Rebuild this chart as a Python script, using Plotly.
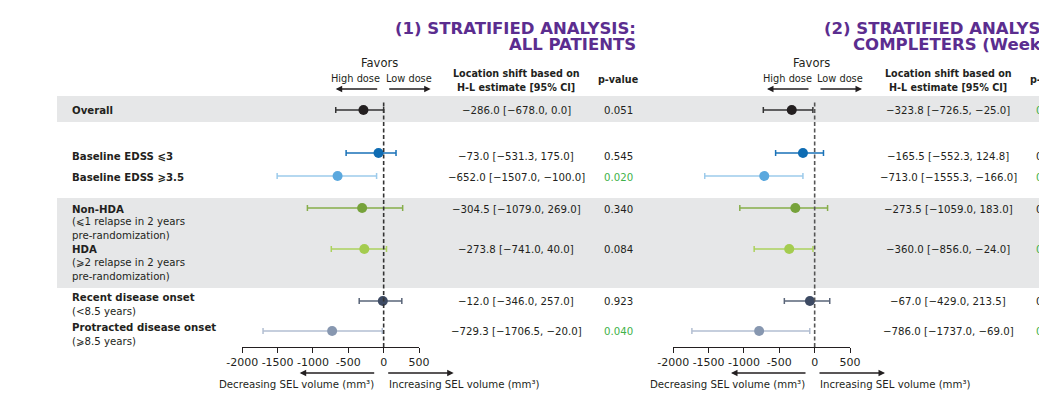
import plotly.graph_objects as go

# ---------------- DATA ----------------
row_labels = [
    ["Overall"],
    ["Baseline EDSS ⩽3"],
    ["Baseline EDSS ⩾3.5"],
    ["Non-HDA", "(⩽1 relapse in 2 years", "pre-randomization)"],
    ["HDA", "(⩾2 relapse in 2 years", "pre-randomization)"],
    ["Recent disease onset", "(<8.5 years)"],
    ["Protracted disease onset", "(⩾8.5 years)"],
]
panel_titles = [["(1) STRATIFIED ANALYSIS:", "ALL PATIENTS"],
                ["(2) STRATIFIED ANALYSIS:", "COMPLETERS (Week 96)"]]

est1 = [-286.0, -73.0, -652.0, -304.5, -273.8, -12.0, -729.3]
lo1 = [-678.0, -531.3, -1507.0, -1079.0, -741.0, -346.0, -1706.5]
hi1 = [0.0, 175.0, -100.0, 269.0, 40.0, 257.0, -20.0]
p1 = ["0.051", "0.545", "0.020", "0.340", "0.084", "0.923", "0.040"]

est2 = [-323.8, -165.5, -713.0, -273.5, -360.0, -67.0, -786.0]
lo2 = [-726.5, -552.3, -1555.3, -1059.0, -856.0, -429.0, -1737.0]
hi2 = [-25.0, 124.8, -166.0, 183.0, -24.0, 213.5, -69.0]
# panel 2 p-values are cut off at the right edge of the reference; only the leading "0" is visible
p2 = ["0", "0", "0", "0", "0", "0", "0"]
p2_sig = [True, False, True, False, True, False, True]

tick_vals = [-2000, -1500, -1000, -500, 0, 500]
tick_text = ["-2000", "-1500", "-1000", "-500", "0", "500"]

# ---------------- STYLE / LAYOUT ----------------
W, H = 1039, 396
FONT = "DejaVu Sans"
TXT = "#231f20"
GREEN = "#3fb24a"
PURPLE = "#5b2d8f"
marker_colors = ["#231f20", "#0e6cb3", "#5aa8de", "#76a23a", "#a4cc4f", "#3d4a63", "#8797b0"]
whisker_colors = ["#333333", "#1a72b8", "#9dcbeb", "#86ae4a", "#acd25d", "#5a6579", "#b3bfd2"]
marker_y = [110, 153, 176, 208, 249, 301, 331]        # screen pixel rows
text_y = [110, 157, 177, 209, 250, 301, 331]
label_y = [[110], [157], [177], [209, 222, 236], [249, 262, 276], [297, 311], [327, 341]]
AXIS_Y = 347
panel_dx = [0, 432]
zero_px = [383.7, 815.0]
dom = [[242.3, 419.0], [673.3, 850.0]]
# title placement: (x, anchor) for each line of each panel
title_pos = [[(638, "right"), (638, "right")], [(822, "left"), (851, "left")]]


def px(x):
    return x / W


def py(y):
    return 1 - y / H


fig = go.Figure()

ests = [est1, est2]
los = [lo1, lo2]
his = [hi1, hi2]
for pi in range(2):
    xa = "x" if pi == 0 else "x2"
    for i in range(len(est1)):
        e, l, h = ests[pi][i], los[pi][i], his[pi][i]
        fig.add_trace(go.Scatter(
            x=[e], y=[marker_y[i]], xaxis=xa, yaxis="y", mode="markers",
            marker=dict(size=10, color=marker_colors[i]),
            error_x=dict(type="data", symmetric=False, array=[h - e], arrayminus=[e - l],
                         color=whisker_colors[i], thickness=1.5, width=3),
            showlegend=False, hoverinfo="skip"))

shapes = []
# grey bands
for (y0, y1) in [(96, 122), (198, 288)]:
    shapes.append(dict(type="rect", xref="paper", yref="paper", x0=px(57), x1=1.0,
                       y0=py(y1), y1=py(y0), fillcolor="#e6e7e8", line=dict(width=0), layer="below"))
# dashed zero lines
for pi, xr in enumerate(["x", "x2"]):
    shapes.append(dict(type="line", xref=xr, yref="paper", x0=0, x1=0, y0=py(AXIS_Y), y1=py(100),
                       line=dict(color="#333333" if pi == 0 else "#555555", width=1.6, dash="4px,2.5px"),
                       layer="above"))

ann = []


def text(x, y, s, size=10.2, anchor="center", color=TXT, bold=False):
    ann.append(dict(x=px(x), y=py(y), xref="paper", yref="paper", text=f"<b>{s}</b>" if bold else s,
                    showarrow=False, xanchor=anchor, yanchor="middle",
                    font=dict(family=FONT, size=size, color=color)))


def arrow(x_tail, x_head, y):
    ann.append(dict(x=px(x_head), y=py(y), xref="paper", yref="paper", ax=x_tail - x_head, ay=0,
                    axref="pixel", ayref="pixel", text="", showarrow=True, arrowhead=2,
                    arrowsize=1, arrowwidth=1.3, arrowcolor=TXT))


# row labels
for i, lines in enumerate(row_labels):
    for j, line in enumerate(lines):
        text(70, label_y[i][j], line, bold=(j == 0), anchor="left")

for pi in range(2):
    dx = panel_dx[pi]
    z = zero_px[pi]
    # titles
    for li, ty in enumerate([28, 44]):
        tx, ta = title_pos[pi][li]
        text(tx, ty, panel_titles[pi][li], size=16.5, anchor=ta, color=PURPLE, bold=True)
    # favors header
    text(z - 4, 63, "Favors", size=11.5)
    text(z - 28, 78, "High dose", size=9.8)
    text(z + 25, 78, "Low dose", size=9.8)
    arrow(z - 5, z - 48, 89)
    arrow(z + 4, z + 47, 89)
    # column headers
    text(516 + dx, 73, "Location shift based on", size=9.6, bold=True)
    text(516 + dx, 87, "H-L estimate [95% CI]", size=9.6, bold=True)
    if pi == 0:
        text(618, 80, "p-value", size=9.6, bold=True)
    else:
        text(1028, 80, "p-value", size=9.6, bold=True, anchor="left")
    # value columns
    for i in range(len(est1)):
        s = f"{ests[pi][i]:.1f} [{los[pi][i]:.1f}, {his[pi][i]:.1f}]".replace("-", "−")
        text(516 + dx, text_y[i], s)
        if pi == 0:
            sig = float(p1[i]) < 0.05
            text(618, text_y[i], p1[i], color=GREEN if sig else TXT)
        else:
            text(1034, text_y[i], p2[i], color=GREEN if p2_sig[i] else TXT, anchor="left")
    # bottom axis arrows and titles
    arrow(z - 8, z - 84, 373)
    arrow(z + 3, z + 70, 373)
    text(z - 8, 384, "Decreasing SEL volume (mm³)", anchor="right")
    text(z + 3, 384, "Increasing SEL volume (mm³)", anchor="left")

axis_common = dict(range=[-2000, 500], tickvals=tick_vals, ticktext=tick_text, showgrid=False,
                   zeroline=False, showline=True, linecolor=TXT, linewidth=1.3, ticks="outside",
                   ticklen=5, tickcolor=TXT, tickwidth=1.3, anchor="free", position=py(AXIS_Y),
                   automargin=False,
                   tickfont=dict(family=FONT, size=11, color=TXT), fixedrange=True)

fig.update_layout(
    template="none",
    width=W, height=H, margin=dict(l=0, r=0, t=0, b=0, pad=0),
    paper_bgcolor="white", plot_bgcolor="rgba(0,0,0,0)",
    xaxis=dict(domain=[px(dom[0][0]), px(dom[0][1])], **axis_common),
    xaxis2=dict(domain=[px(dom[1][0]), px(dom[1][1])], **axis_common),
    yaxis=dict(domain=[0, 1], range=[H, 0], visible=False, fixedrange=True, automargin=False),
    shapes=shapes, annotations=ann, font=dict(family=FONT),
)

fig.write_html("out.html", config={"displayModeBar": False},
               post_script="document.body.style.margin='0';document.body.style.overflow='hidden';")
